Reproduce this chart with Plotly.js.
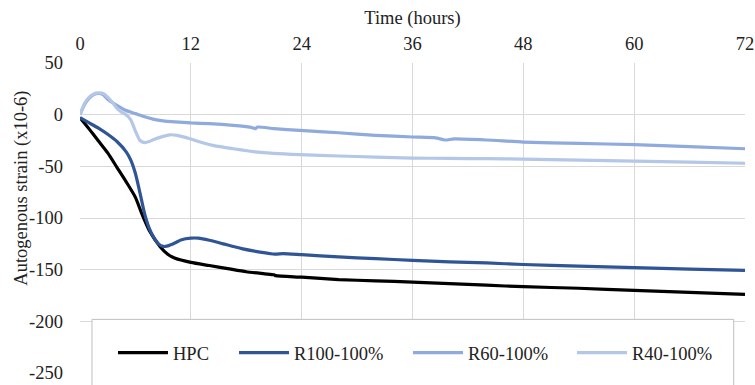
<!DOCTYPE html>
<html>
<head>
<meta charset="utf-8">
<script src="https://cdn.plot.ly/plotly-3.0.1.min.js"></script>
<style>
html,body{margin:0;padding:0;background:#fff;}
#chart{width:755px;height:385px;}
#chart svg text{font-family:"Liberation Serif","Times New Roman",serif !important;}
</style>
</head>
<body>
<div id="chart"></div>
<script>
// Series names and colours
const seriesNames = ["HPC", "R100-100%", "R60-100%", "R40-100%"];
const seriesColors = ["#000000", "#2F5597", "#8FAADC", "#B4C7E7"];

// Time (hours) and autogenous strain (x10-6)
const hpcTime = [0, 1, 2, 3, 4, 5, 6, 6.7, 7.5, 8.7, 9.5, 10.3, 12, 14, 16, 18, 20, 21, 21.2, 24, 28, 32, 36, 40, 44, 48, 54, 60, 66, 72];
const hpcStrain = [-3, -14, -25.5, -37, -51, -65, -80, -96, -112, -128, -135, -139, -143, -146, -149, -152, -154, -155, -155.8, -157.3, -159.6, -160.8, -162, -163.5, -165, -166.5, -168, -170, -172, -174];

const r100Time = [0, 1, 2, 3, 4, 5, 5.5, 6, 6.5, 7, 7.5, 8, 8.5, 9, 9.5, 10.3, 11, 12, 12.8, 14, 15.5, 17.5, 19.5, 21.1, 22, 24, 28, 32, 36, 40, 44, 48, 54, 60, 66, 72];
const r100Strain = [-3, -8, -13, -19, -26, -36, -44, -57, -76, -96, -110, -119, -125, -127.5, -127, -124, -121, -119.5, -119.5, -121.5, -125, -129.6, -133, -135, -134.5, -135.5, -137.7, -139.3, -141, -142.5, -143.5, -145, -146.5, -148, -149.5, -150.6];

const r60Time = [0, 0.5, 1, 1.5, 2, 2.5, 3, 4, 5, 6, 7, 8, 9, 10.3, 12, 14, 16.6, 18.4, 19, 19.2, 21, 23.8, 28, 32, 36, 38.5, 39.5, 40.5, 44, 48, 54, 60, 66, 72];
const r60Strain = [0, 10, 16, 19.5, 20.5, 19.5, 15, 9, 4, 1, -2, -4.5, -6, -7, -8, -8.7, -10.3, -12, -13.5, -12, -13.5, -15.2, -17.5, -20, -21.6, -22.4, -24.5, -23.5, -24.5, -26.5, -27.8, -29, -31, -33];

const r40Time = [0, 0.5, 1, 1.5, 2, 2.5, 3, 3.5, 4, 4.5, 5, 5.5, 6, 6.5, 7, 7.5, 8, 9, 9.7, 10.5, 12, 13, 14.5, 16.6, 19, 21, 23.8, 28, 32, 36, 40, 44, 48, 54, 60, 66, 72];
const r40Strain = [0, 11, 17, 20, 21, 20.5, 17, 12, 6, 2.5, 0, -5, -16, -25, -27, -26, -24, -21, -19.5, -20, -23.5, -26.5, -30, -33, -36, -37.5, -38.7, -40, -41, -42, -42.3, -42.6, -43, -44, -45, -46, -47];

// Axis ticks
const xTicks = [0, 12, 24, 36, 48, 60, 72];
const yTicks = [50, 0, -50, -100, -150, -200, -250];

const xs = [hpcTime, r100Time, r60Time, r40Time];
const ys = [hpcStrain, r100Strain, r60Strain, r40Strain];

const fontFamily = "Liberation Serif";
const mkFont = () => ({family: fontFamily, size: 18.5, color: "#222"});

const legendIds = ["legend", "legend2", "legend3", "legend4"];
const legendX = [0.0496, 0.2316, 0.4932, 0.7398];

const traces = seriesNames.map((n, i) => ({
  type: "scatter", mode: "lines", name: n, legend: legendIds[i],
  x: xs[i], y: ys[i],
  line: {color: seriesColors[i], width: 3.2, shape: "spline", smoothing: 0.6}
}));

const layout = {
  width: 755, height: 385,
  margin: {l: 80, r: 10, t: 63, b: 12},
  paper_bgcolor: "#fff", plot_bgcolor: "#fff",
  font: mkFont(),
  showlegend: true,
  xaxis: {
    side: "top", range: [0, 72], tickvals: xTicks, ticktext: xTicks.map(String),
    showgrid: true, gridcolor: "#d9d9d9", gridwidth: 1, zeroline: false,
    showline: false, ticks: "", ticklabelstandoff: 8,
    title: {text: "Time (hours)", font: mkFont(), standoff: 4},
    tickfont: mkFont()
  },
  yaxis: {
    range: [-250, 50], tickvals: yTicks, ticktext: yTicks.map(String),
    showgrid: true, gridcolor: "#d9d9d9", gridwidth: 1, zeroline: false,
    showline: false, ticks: "", ticklabelstandoff: 16,
    tickfont: mkFont()
  },
  annotations: [{
    text: "Autogenous strain (x10-6)", textangle: -90,
    xref: "paper", yref: "paper", x: -0.088, y: 0.596,
    xanchor: "center", yanchor: "middle", showarrow: false, font: mkFont()
  }],
  shapes: [{
    type: "rect", xref: "paper", yref: "paper", layer: "above",
    x0: 0.018, x1: 0.983, y0: -0.1, y1: 0.173,
    fillcolor: "#ffffff", line: {color: "#bfbfbf", width: 1}
  }]
};

legendIds.forEach((id, i) => {
  layout[id] = {
    orientation: "h", x: legendX[i], y: 0.064, xanchor: "left", yanchor: "middle",
    bgcolor: "rgba(0,0,0,0)", borderwidth: 0, font: mkFont(), itemwidth: 50
  };
});

Plotly.newPlot("chart", traces, layout, {displayModeBar: false, staticPlot: true});
</script>
</body>
</html>
